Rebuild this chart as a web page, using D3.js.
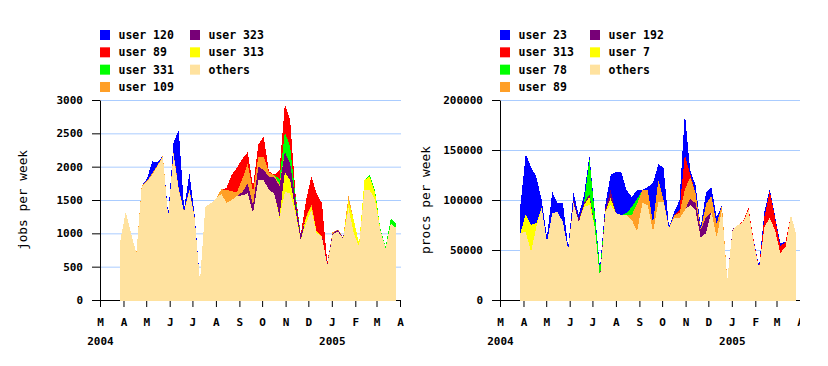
<!DOCTYPE html>
<html><head><meta charset="utf-8">
<script src="https://cdn.jsdelivr.net/npm/d3@7"></script>
<style>html,body{margin:0;padding:0;background:#fff;} svg{display:block;}</style>
</head><body>
<svg id="c" width="828" height="366"></svg>
<script>
// ---------- categories ----------
const weeks = ["2004-03-28","2004-04-04","2004-04-11","2004-04-18","2004-04-25","2004-05-02","2004-05-09","2004-05-16","2004-05-23","2004-05-30",
"2004-06-06","2004-06-13","2004-06-20","2004-06-27","2004-07-04","2004-07-11","2004-07-18","2004-07-25","2004-08-01","2004-08-08",
"2004-08-15","2004-08-22","2004-08-29","2004-09-05","2004-09-12","2004-09-19","2004-09-26","2004-10-03","2004-10-10","2004-10-17",
"2004-10-24","2004-10-31","2004-11-07","2004-11-14","2004-11-21","2004-11-28","2004-12-05","2004-12-12","2004-12-19","2004-12-26",
"2005-01-02","2005-01-09","2005-01-16","2005-01-23","2005-01-30","2005-02-06","2005-02-13","2005-02-20","2005-02-27","2005-03-06",
"2005-03-13","2005-03-20","2005-03-27"];
const monthDates = ["2004-03-01","2004-04-01","2004-05-01","2004-06-01","2004-07-01","2004-08-01","2004-09-01","2004-10-01","2004-11-01","2004-12-01","2005-01-01","2005-02-01","2005-03-01","2005-04-01"];
const monthLabels = ["M","A","M","J","J","A","S","O","N","D","J","F","M","A"];
const yearLabels = ["2004","2005"];
const yearDates = ["2004-03-01","2005-01-01"];
const jobsTicks = [0,500,1000,1500,2000,2500,3000];
const procsTicks = [0,50000,100000,150000,200000];

// ---------- left chart: jobs per week (legend order, top of stack first) ----------
const jobsNames = ["user 120","user 89","user 331","user 109","user 323","user 313","others"];
const jobsU120 = [0,0,0,0,0,30,180,40,0,30,150,880,40,240,30,0,0,0,0,0,0,0,0,0,0,0,0,0,0,0,0,0,0,0,0,0,0,0,0,0,0,0,0,0,0,0,0,0,0,0,0,0,0];
const jobsU89  = [0,0,0,0,0,0,0,0,0,0,0,0,0,0,0,0,0,0,0,0,30,250,370,300,170,80,180,300,20,10,130,420,400,50,0,250,420,570,500,20,0,0,0,0,0,0,0,0,0,0,0,0,0];
const jobsU331 = [0,0,0,0,0,0,0,0,0,0,0,0,0,0,0,0,0,0,0,0,0,0,0,0,0,0,0,0,0,0,80,300,250,50,0,0,0,0,0,0,0,0,0,0,0,0,0,30,30,20,20,80,60];
const jobsU109 = [0,0,0,0,20,20,20,15,15,0,20,20,10,20,15,0,0,0,0,70,190,130,60,200,300,200,150,200,60,30,30,0,0,0,0,20,20,0,0,0,20,10,0,80,0,0,0,0,0,0,0,0,0];
const jobsU323 = [0,0,0,0,0,0,0,0,0,0,0,0,0,0,0,0,0,0,0,0,0,0,0,50,150,120,200,150,200,240,450,300,250,150,80,0,0,0,0,20,20,20,15,0,0,0,0,0,0,0,0,0,0];
const jobsU313 = [0,0,0,0,0,0,0,0,0,0,0,0,0,0,0,0,0,0,0,0,0,0,0,0,0,0,0,0,0,0,30,300,200,50,0,80,60,30,0,0,0,0,0,100,200,40,150,200,120,0,0,0,0];
const jobsOthers = [900,1325,1000,700,1690,1770,1880,2010,2150,1250,2190,1650,1320,1640,1220,275,1400,1450,1520,1590,1460,1500,1560,1570,1600,1300,1800,1800,1650,1600,1230,1620,1600,1300,900,1150,1350,1000,950,520,980,1030,920,1380,1000,800,1650,1650,1500,1050,780,1150,1080];

// ---------- right chart: procs per week ----------
const procsNames = ["user 23","user 313","user 78","user 89","user 192","user 7","others"];
const procsU23  = [28000,60000,58000,46000,8000,5000,21000,9000,19000,3000,8000,4000,8000,3000,3000,2000,4000,15000,41000,43000,23000,10000,9000,0,3000,40000,16000,32000,1000,3000,10000,42000,4000,8000,3000,12000,9000,7000,0,0,0,0,0,0,0,2000,5000,2000,2000,3000,0,0,0];
const procsU313 = [0,0,0,0,0,0,0,0,0,0,0,0,0,0,0,0,0,0,0,0,0,0,0,0,0,0,0,0,0,0,3000,35000,3000,0,0,0,0,0,0,0,0,0,1000,2000,2000,0,10000,27000,12000,7000,5000,0,0];
const procsU78  = [0,0,0,0,0,0,0,0,0,0,0,0,0,35000,14000,8000,0,0,0,0,2000,8000,5000,0,0,0,0,0,0,0,0,0,0,0,0,0,0,0,0,0,0,0,0,0,0,0,0,0,0,0,0,0,0];
const procsU89  = [0,0,0,0,0,0,0,0,0,0,0,0,0,0,0,0,0,0,0,0,0,5000,27000,13000,15000,9000,22000,2000,0,3000,5000,20000,22000,10000,0,13000,16000,13000,5000,0,0,0,0,0,0,0,0,0,0,0,0,0,0];
const procsU192 = [0,0,0,0,0,0,0,0,0,0,2000,3000,2000,3000,0,0,3000,8000,0,0,0,0,0,0,0,0,0,0,0,0,0,0,6000,7000,8000,16000,0,0,0,0,1000,0,0,0,0,0,0,0,0,0,0,0,0];
const procsU7   = [0,18000,27000,4000,0,0,0,0,0,0,0,0,2000,8000,0,0,0,7000,0,0,0,0,0,0,0,0,0,0,0,0,0,0,0,0,0,0,0,0,0,0,0,0,0,0,0,0,0,0,0,0,0,0,0];
const procsOthers = [67000,68000,48000,73000,92000,58000,87000,88000,78000,50000,97000,78000,93000,95000,73000,22000,88000,95000,87000,85000,85000,80000,69000,97000,95000,68000,98000,98000,72000,82000,82000,90000,95000,90000,62000,67000,88000,63000,90000,20000,70000,75000,78000,90000,57000,32000,73000,82000,70000,47000,53000,85000,66000];

// colors by legend position (top of stack first)
const palette = ["#0000ff","#ff0000","#00ff00","#ff9f26","#770077","#ffff00","#ffe29f"];

const svg = d3.select("#c");
const parse = d3.utcParse("%Y-%m-%d");
const FONT = "'DejaVu Sans Mono', 'Liberation Mono', monospace";

svg.append("defs").append("clipPath").attr("id","clipR")
  .append("rect").attr("x",400).attr("y",0).attr("width",400).attr("height",366);

function drawChart(g, ox, titleX, title, names, seriesTopFirst, ticks) {
  const x = d3.scaleUtc().domain([parse(monthDates[0]), parse(monthDates[monthDates.length-1])]).range([ox, ox+300]);
  const y = d3.scaleLinear().domain([0, ticks[ticks.length-1]]).range([300, 100]);

  // gridlines
  g.append("g").selectAll("line").data(ticks.filter(t => t > 0)).join("line")
    .attr("x1", ox+1).attr("x2", ox+301)
    .attr("y1", d => y(d)+0.5).attr("y2", d => y(d)+0.5)
    .attr("stroke", "#aaccff").attr("stroke-width", 1);

  // y axis
  const ya = g.append("g").attr("transform", `translate(${ox},0)`)
    .call(d3.axisLeft(y).tickValues(ticks).tickSize(8).tickSizeOuter(0).tickPadding(9).tickFormat(d3.format("d")));
  ya.selectAll("text").attr("font-family", FONT).attr("font-weight", "bold").attr("font-size", "11px").attr("fill", "#000");
  ya.selectAll("line,path").attr("stroke", "#000");

  // x axis
  const xa = g.append("g").attr("transform", "translate(0,300)")
    .call(d3.axisBottom(x).tickValues(monthDates.map(parse)).tickSize(7).tickSizeOuter(0).tickFormat(""));
  xa.selectAll("line,path").attr("stroke", "#000");

  g.append("g").selectAll("text").data(monthDates).join("text")
    .attr("x", d => x(parse(d)) + 0.5).attr("y", 326)
    .attr("text-anchor", "middle")
    .attr("font-family", FONT).attr("font-weight", "bold").attr("font-size", "11px")
    .text((d, i) => monthLabels[i]);

  g.append("g").selectAll("text").data(yearDates).join("text")
    .attr("x", d => x(parse(d)) + 0.5).attr("y", 345)
    .attr("text-anchor", "middle")
    .attr("font-family", FONT).attr("font-weight", "bold").attr("font-size", "11px")
    .text((d, i) => yearLabels[i]);

  // stacked data (bottom of stack first)
  const keys = names.slice().reverse();
  const bottomFirst = seriesTopFirst.slice().reverse();
  const table = weeks.map((w, i) => {
    const row = { date: parse(w) };
    keys.forEach((k, j) => row[k] = bottomFirst[j][i]);
    return row;
  });
  const stacked = d3.stack().keys(keys)(table);
  const area = d3.area()
    .x(d => x(d.data.date))
    .y0(d => d[0] === 0 ? y(0) + 1 : y(d[0]))
    .y1(d => y(d[1]))
    .curve(d3.curveLinear);
  g.append("g").selectAll("path").data(stacked).join("path")
    .attr("d", area)
    .attr("fill", (d, i) => palette[names.length - 1 - i])
    .attr("stroke", "none")
    .attr("shape-rendering", "crispEdges");

  // legend
  const lg = g.append("g");
  names.forEach((n, i) => {
    const col = i < 4 ? 0 : 1;
    const row = i < 4 ? i : i - 4;
    const lx = ox + col * 90;
    const ly = 30 + row * 17.33;
    lg.append("rect").attr("x", lx).attr("y", ly).attr("width", 10).attr("height", 10).attr("fill", palette[i]);
    lg.append("text").attr("x", lx + 18.5).attr("y", ly + 5).attr("dy", "0.36em")
      .attr("font-family", FONT).attr("font-weight", "bold").attr("font-size", "11.5px")
      .text(n);
  });

  // y title
  g.append("text")
    .attr("transform", `translate(${titleX},200) rotate(-90)`)
    .attr("text-anchor", "middle")
    .attr("font-family", FONT).attr("font-size", "12.8px")
    .text(title);
}

drawChart(svg.append("g"), 100, 27, "jobs per week", jobsNames,
  [jobsU120, jobsU89, jobsU331, jobsU109, jobsU323, jobsU313, jobsOthers], jobsTicks);
drawChart(svg.append("g").attr("clip-path", "url(#clipR)"), 500, 430, "procs per week", procsNames,
  [procsU23, procsU313, procsU78, procsU89, procsU192, procsU7, procsOthers], procsTicks);
</script>
</body></html>
